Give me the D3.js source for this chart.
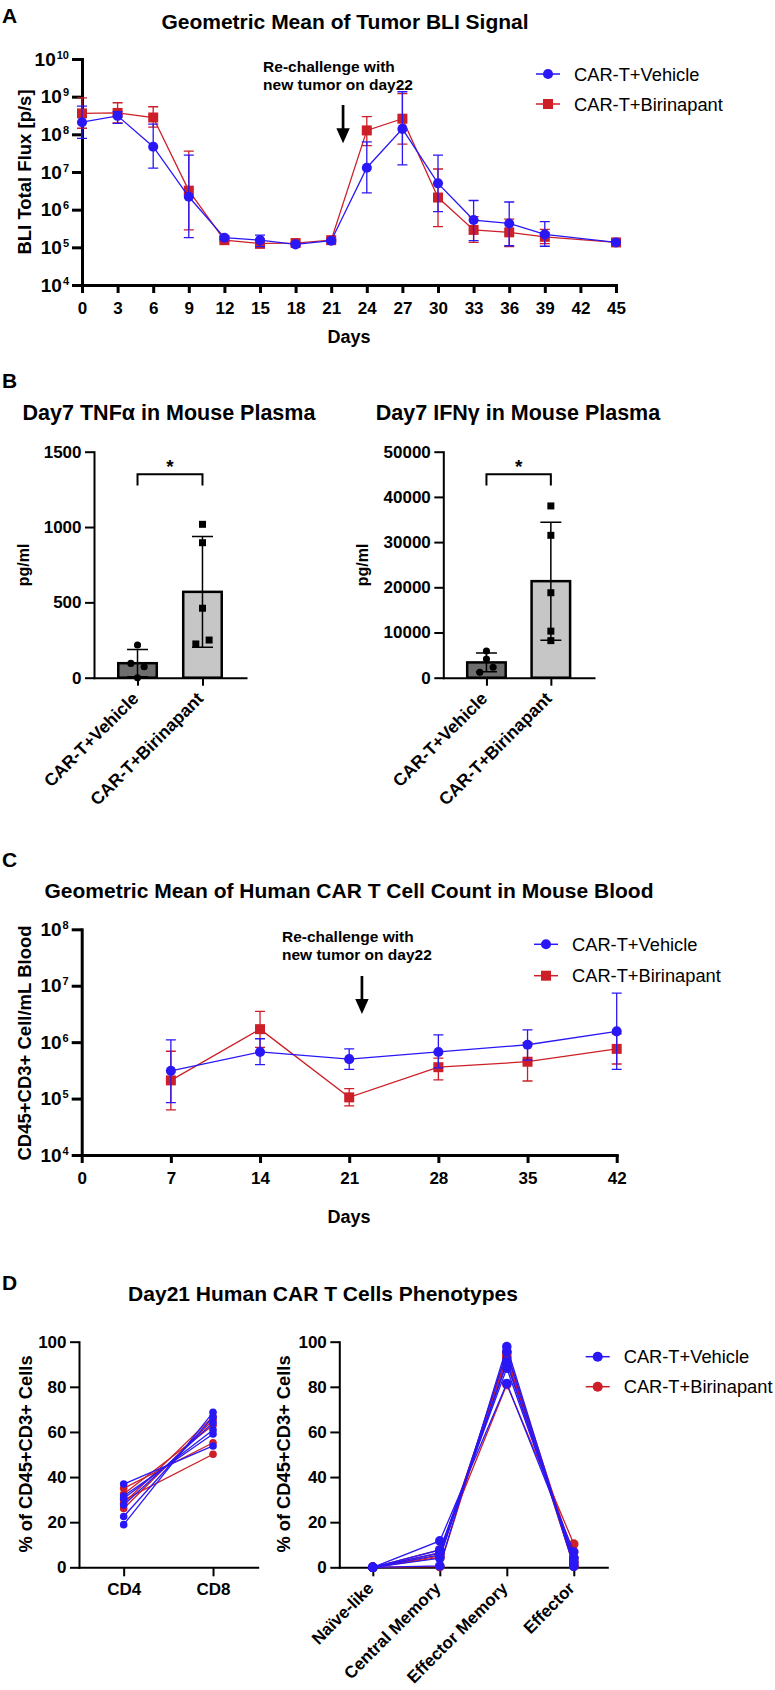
<!DOCTYPE html>
<html><head><meta charset="utf-8">
<script src="https://cdn.jsdelivr.net/npm/d3@7"></script>
<style>body{margin:0;background:#fff}svg{display:block}</style>
</head><body>
<script>
// ================= DATA =================
const groups = ["CAR-T+Vehicle", "CAR-T+Birinapant"];

// Panel A: tumor BLI (geometric mean with error range)
const bliDays = [0, 3, 6, 9, 12, 15, 18, 21, 24, 27, 30, 33, 36, 39, 45];
const bliDayTicks = [0, 3, 6, 9, 12, 15, 18, 21, 24, 27, 30, 33, 36, 39, 42, 45];
const bliTicks = [1e4, 1e5, 1e6, 1e7, 1e8, 1e9, 1e10];
const bliVehicle   = [2.1e8, 3.1e8, 4.7e7, 2.2e6, 1.8e5, 1.55e5, 1.2e5, 1.5e5, 1.3e7, 1.4e8, 5.0e6, 5.3e5, 4.3e5, 2.2e5, 1.35e5];
const bliVehicleHi = [5.6e8, 4.0e8, 1.86e8, 2.8e7, 1.95e5, 2.1e5, 1.3e5, 1.6e5, 6.3e7, 1.35e9, 2.8e7, 1.75e6, 1.6e6, 4.8e5, null];
const bliVehicleLo = [7.8e7, 1.95e8, 1.26e7, 1.8e5, 1.65e5, 1.05e5, 1.1e5, 1.4e5, 2.8e6, 1.55e7, 8.9e5, 1.5e5, 1.1e5, 1.07e5, null];
const bliBirinapant   = [3.6e8, 3.7e8, 2.8e8, 3.2e6, 1.55e5, 1.27e5, 1.3e5, 1.55e5, 1.27e8, 2.6e8, 2.1e6, 2.9e5, 2.5e5, 1.9e5, 1.35e5];
const bliBirinapantHi = [9.3e8, 6.9e8, 5.4e8, 3.6e7, 1.65e5, 1.45e5, 1.38e5, 1.65e5, 2.95e8, 1.2e9, 1.2e7, 6.5e5, 5.6e5, 3.0e5, null];
const bliBirinapantLo = [1.45e8, 2.0e8, 1.55e8, 2.9e5, 1.45e5, 9.5e4, 1.22e5, 1.45e5, 5.0e7, 5.5e7, 3.55e5, 1.35e5, 1.05e5, 1.25e5, null];
const rechallengeDay = 22;

// Panel B: day 7 cytokines (individual mice)
const tnfVehicle = [217, 95, 73, 0];
const tnfBirinapant = [1018, 896, 461, 224, 250];
const tnfTicks = [0, 500, 1000, 1500];
const ifnVehicle = [5900, 4140, 1190, 2300];
const ifnBirinapant = [38000, 31500, 18800, 10300, 8200];
const ifnTicks = [0, 10000, 20000, 30000, 40000, 50000];

// Panel C: CAR T count in blood
const carDays = [7, 14, 21, 28, 35, 42];
const carDayTicks = [0, 7, 14, 21, 28, 35, 42];
const carTicks = [1e4, 1e5, 1e6, 1e7, 1e8];
const carVehicle   = [3.1e5, 6.7e5, 5.0e5, 6.7e5, 9.0e5, 1.55e6];
const carVehicleHi = [1.1e6, 1.15e6, 7.6e5, 1.35e6, 1.65e6, 7.4e6];
const carVehicleLo = [8.5e4, 4.0e5, 3.3e5, 3.5e5, 4.8e5, 3.3e5];
const carBirinapant   = [2.1e5, 1.7e6, 1.05e5, 3.6e5, 4.5e5, 7.6e5];
const carBirinapantHi = [6.9e5, 3.5e6, 1.5e5, 5.2e5, 9.8e5, 1.4e6];
const carBirinapantLo = [6.3e4, 8.1e5, 7.4e4, 2.15e5, 2.05e5, 4.1e5];

// Panel D: day 21 phenotypes (per mouse)
const subsets = ["CD4", "CD8"];
const subsetVehicle = [[36.9, 53.8], [31.6, 59.1], [30.5, 60.9], [27.6, 64.1], [22.5, 66.5], [18.9, 68.7]];
const subsetBirinapant = [[35.0, 55.2], [29.8, 50.1], [28.4, 66.8], [26.1, 65.3], [32.5, 63.0]];
const phenotypes = ["Naïve-like", "Central Memory", "Effector Memory", "Effector"];
const phenoVehicle = [[0, 11.7, 81.5, 6.8], [0, 0.6, 97.8, 1.6], [0, 5.5, 90.4, 4.1], [0, 4.0, 95.6, 0.4], [0, 7.7, 88.2, 4.1], [0, 6.5, 91.0, 2.5]];
const phenoBirinapant = [[0, 7.7, 81.0, 10.3], [0, 4.4, 94.8, 0.8], [0, 6.2, 93.4, 0.4], [0, 0.3, 95.5, 4.2], [0, 5.0, 92.5, 2.5]];
const pctTicks = [0, 20, 40, 60, 80, 100];

// ================= STYLE =================
const FONT = '"Liberation Sans", Arial, Helvetica, sans-serif';
const BLUE = "#2a17f5", RED = "#cc1f27";

const svg = d3.select("body").append("svg")
  .attr("width", 775).attr("height", 1690)
  .attr("font-family", FONT);

function text(x, y, s, size, weight, anchor) {
  return svg.append("text").attr("x", x).attr("y", y)
    .attr("font-size", size).attr("font-weight", weight || "bold")
    .attr("text-anchor", anchor || "start").attr("fill", "#000").text(s);
}
function yTitle(x, cy, s, size) {
  svg.append("text").attr("transform", `translate(${x},${cy}) rotate(-90)`)
    .attr("text-anchor", "middle").attr("font-size", size).attr("font-weight", "bold").text(s);
}
function styleAxis(g, sw, fs) {
  g.attr("font-family", FONT).attr("font-size", fs).attr("font-weight", "bold");
  g.select(".domain").attr("stroke", "#000").attr("stroke-width", sw).attr("stroke-linecap", "square");
  g.selectAll(".tick line").attr("stroke", "#000").attr("stroke-width", sw);
  g.selectAll(".tick text").attr("fill", "#000");
}
function powLabels(g) {
  g.selectAll(".tick text").each(function (d) {
    const t = d3.select(this);
    t.text(null);
    t.append("tspan").text("10");
    t.append("tspan").attr("font-size", 11).attr("dx", 1).attr("dy", -7).text(Math.round(Math.log10(d)));
  });
}
const sym = (type, size) => d3.symbol().type(type).size(size)();
const plain = d3.format("d");

function legend(x, y0, dy, items, fs) {
  items.forEach((it, i) => {
    const y = y0 + i * dy;
    svg.append("line").attr("x1", x - 12).attr("x2", x + 12).attr("y1", y).attr("y2", y)
      .attr("stroke", it.color).attr("stroke-width", 1.5);
    svg.append("path").attr("transform", `translate(${x},${y})`).attr("d", it.d).attr("fill", it.color);
    text(x + 26, y + 6.5, it.label, fs, "normal");
  });
}

function rechallenge(x, base1, arrowTop, arrowTip) {
  const t = svg.append("text").attr("font-size", 15.5).attr("font-weight", "bold");
  t.append("tspan").attr("x", x - 80).attr("y", base1).text("Re-challenge with");
  t.append("tspan").attr("x", x - 80).attr("y", base1 + 18.5).text("new tumor on day22");
  svg.append("line").attr("x1", x).attr("x2", x).attr("y1", arrowTop).attr("y2", arrowTip - 12)
    .attr("stroke", "#000").attr("stroke-width", 2.7);
  svg.append("path").attr("d", `M${x - 6.7},${arrowTip - 15}L${x + 6.7},${arrowTip - 15}L${x},${arrowTip}Z`).attr("fill", "#000");
}

function logSeries(x, y, days, mean, hi, lo, color, shape, size) {
  const g = svg.append("g");
  g.append("path").datum(mean)
    .attr("d", d3.line().x((d, i) => x(days[i])).y(d => y(d)))
    .attr("fill", "none").attr("stroke", color).attr("stroke-width", 1.3);
  days.forEach((day, i) => {
    if (hi[i] == null) return;
    const cx = x(day), y1 = y(hi[i]), y2 = y(lo[i]);
    g.append("path").attr("d", `M${cx},${y1}V${y2}M${cx - 5},${y1}H${cx + 5}M${cx - 5},${y2}H${cx + 5}`)
      .attr("fill", "none").attr("stroke", color).attr("stroke-width", 1.3);
  });
  g.selectAll("path.m").data(mean).join("path").attr("class", "m")
    .attr("transform", (d, i) => `translate(${x(days[i])},${y(d)})`)
    .attr("d", sym(shape, size)).attr("fill", color);
}

function rotLabels(xs, cats, axisY, fs) {
  cats.forEach(c => {
    svg.append("text").attr("transform", `translate(${xs(c) + 2},${axisY + 22}) rotate(-45)`)
      .attr("text-anchor", "end").attr("font-size", fs).attr("font-weight", "bold").text(c);
  });
}

// ================= PANEL A =================
text(2, 23, "A", 21);
text(345, 28.5, "Geometric Mean of Tumor BLI Signal", 21, "bold", "middle");
{
  const x = d3.scaleLinear().domain([0, 45]).range([82, 616]);
  const y = d3.scaleLog().domain([1e4, 1e10]).range([285, 59]);
  const gx = svg.append("g").attr("transform", "translate(0,285)")
    .call(d3.axisBottom(x).tickValues(bliDayTicks).tickSize(8).tickSizeOuter(0).tickPadding(9));
  styleAxis(gx, 3, 17);
  const gy = svg.append("g").attr("transform", "translate(82,0)")
    .call(d3.axisLeft(y).tickValues(bliTicks).tickSize(10).tickSizeOuter(0).tickPadding(3));
  styleAxis(gy, 3, 19);
  powLabels(gy);
  yTitle(30.7, 172, "BLI Total Flux [p/s]", 18.5);
  text(349, 343, "Days", 18, "bold", "middle");
  rechallenge(x(rechallengeDay), 71.5, 105, 143.3);
  logSeries(x, y, bliDays, bliBirinapant, bliBirinapantHi, bliBirinapantLo, RED, d3.symbolSquare, 100);
  logSeries(x, y, bliDays, bliVehicle, bliVehicleHi, bliVehicleLo, BLUE, d3.symbolCircle, 80);
  legend(548, 74, 30, [
    { label: groups[0], color: BLUE, d: sym(d3.symbolCircle, 80) },
    { label: groups[1], color: RED, d: sym(d3.symbolSquare, 100) }
  ], 18.3);
}

// ================= PANEL B =================
text(2, 388, "B", 21);
function barPanel(x0, x1, yMax, ticks, vals, titleStr, titleX, ylabX, bracketTop, bracketLeg) {
  const y = d3.scaleLinear().domain([0, yMax]).range([677.7, 451.7]);
  const x = d3.scalePoint().domain(groups).range([x0, x1]).padding(0.67);
  text(titleX, 420, titleStr, 21.5, "bold", "middle");
  yTitle(ylabX, 565, "pg/ml", 16);
  const gy = svg.append("g").attr("transform", `translate(${x0},0)`)
    .call(d3.axisLeft(y).tickValues(ticks).tickFormat(plain).tickSize(9).tickSizeOuter(0).tickPadding(3.5));
  styleAxis(gy, 2, 17);
  const fills = ["#6e6e6e", "#c6c6c6"];
  groups.forEach((gname, gi) => {
    const v = vals[gi];
    const m = d3.mean(v), sd = d3.deviation(v);
    const cx = x(gname);
    svg.append("rect").attr("x", cx - 19.25).attr("width", 38.5)
      .attr("y", y(m)).attr("height", y(0) - y(m))
      .attr("fill", fills[gi]).attr("stroke", "#000").attr("stroke-width", 2.5);
    const yh = y(m + sd), yl = y(Math.max(0, m - sd));
    svg.append("path").attr("d", `M${cx},${yh}V${yl}M${cx - 10.5},${yh}H${cx + 10.5}M${cx - 10.5},${yl}H${cx + 10.5}`)
      .attr("stroke", "#000").attr("stroke-width", 1.5).attr("fill", "none");
    // dots: cluster overlapping points and spread them sideways
    const pts = v.map((d, i) => ({ d, i, py: y(d), dx: 0 }));
    const sorted = pts.slice().sort((a, b) => a.py - b.py);
    let cl = [sorted[0]];
    const clusters = [];
    for (let k = 1; k < sorted.length; k++) {
      if (sorted[k].py - sorted[k - 1].py < 7) cl.push(sorted[k]);
      else { clusters.push(cl); cl = [sorted[k]]; }
    }
    clusters.push(cl);
    clusters.forEach(c => {
      if (c.length < 2) return;
      c.sort((a, b) => a.i - b.i);
      c.forEach((p, k) => { p.dx = (k - (c.length - 1) / 2) * 13.3; });
    });
    pts.forEach(p => {
      svg.append("path").attr("transform", `translate(${cx + p.dx},${p.py})`)
        .attr("d", sym(gi === 0 ? d3.symbolCircle : d3.symbolSquare, gi === 0 ? 40 : 49)).attr("fill", "#000");
    });
  });
  // x axis drawn on top of bars
  const gx = svg.append("g").attr("transform", "translate(0,677.7)")
    .call(d3.axisBottom(x).tickSize(8).tickSizeOuter(0).tickFormat(""));
  styleAxis(gx, 2, 17);
  rotLabels(x, groups, 677.7, 17.5);
  // significance bracket
  const xa = x(groups[0]), xb = x(groups[1]);
  svg.append("path").attr("d", `M${xa},${y(bracketLeg)}V${y(bracketTop)}H${xb}V${y(bracketLeg)}`)
    .attr("fill", "none").attr("stroke", "#000").attr("stroke-width", 2);
  text((xa + xb) / 2, y(bracketTop) - 1, "*", 19, "bold", "middle");
}
barPanel(94, 246, 1500, tnfTicks, [tnfVehicle, tnfBirinapant], "Day7 TNFα in Mouse Plasma", 169, 29, 1350, 1275);
barPanel(443.3, 594, 50000, ifnTicks, [ifnVehicle, ifnBirinapant], "Day7 IFNγ in Mouse Plasma", 518, 368, 45000, 42500);

// ================= PANEL C =================
text(2, 867, "C", 21);
text(349, 898, "Geometric Mean of Human CAR T Cell Count in Mouse Blood", 21, "bold", "middle");
{
  const x = d3.scaleLinear().domain([0, 42]).range([81.7, 616.7]);
  const y = d3.scaleLog().domain([1e4, 1e8]).range([1155, 929.3]);
  const gx = svg.append("g").attr("transform", "translate(0,1155)")
    .call(d3.axisBottom(x).tickValues(carDayTicks).tickSize(8).tickSizeOuter(0).tickPadding(9));
  styleAxis(gx, 3, 17);
  const gy = svg.append("g").attr("transform", "translate(81.7,0)")
    .call(d3.axisLeft(y).tickValues(carTicks).tickSize(10).tickSizeOuter(0).tickPadding(3));
  styleAxis(gy, 3, 19);
  powLabels(gy);
  yTitle(31.3, 1043, "CD45+CD3+ Cell/mL Blood", 18.5);
  text(349, 1223, "Days", 18, "bold", "middle");
  rechallenge(x(rechallengeDay), 941.7, 976, 1014);
  logSeries(x, y, carDays, carBirinapant, carBirinapantHi, carBirinapantLo, RED, d3.symbolSquare, 100);
  logSeries(x, y, carDays, carVehicle, carVehicleHi, carVehicleLo, BLUE, d3.symbolCircle, 80);
  legend(546, 944.3, 31.4, [
    { label: groups[0], color: BLUE, d: sym(d3.symbolCircle, 80) },
    { label: groups[1], color: RED, d: sym(d3.symbolSquare, 100) }
  ], 18.3);
}

// ================= PANEL D =================
text(2, 1290, "D", 21);
text(323, 1300.5, "Day21 Human CAR T Cells Phenotypes", 21, "bold", "middle");
function pctPanel(x0, x1, cats, veh, bir, r, rotate) {
  const y = d3.scaleLinear().domain([0, 100]).range([1567.3, 1341.7]);
  const x = d3.scalePoint().domain(cats).range([x0, x1]).padding(0.5);
  const gx = svg.append("g").attr("transform", "translate(0,1567.3)")
    .call(d3.axisBottom(x).tickSize(9).tickSizeOuter(0).tickPadding(7));
  styleAxis(gx, 2, 17);
  if (rotate) { gx.selectAll(".tick text").remove(); rotLabels(x, cats, 1567.3, 17); }
  const gy = svg.append("g").attr("transform", `translate(${x0},0)`)
    .call(d3.axisLeft(y).tickValues(pctTicks).tickFormat(plain).tickSize(9).tickSizeOuter(0).tickPadding(3.5));
  styleAxis(gy, 2, 17);
  const line = d3.line().x((d, i) => x(cats[i])).y(d => y(d));
  [[bir, RED], [veh, BLUE]].forEach(([set, color]) => {
    const g = svg.append("g");
    set.forEach(row => {
      g.append("path").attr("d", line(row)).attr("fill", "none").attr("stroke", color).attr("stroke-width", 1.3);
      row.forEach((v, i) => g.append("circle").attr("cx", x(cats[i])).attr("cy", y(v)).attr("r", r).attr("fill", color));
    });
  });
}
pctPanel(79, 257.7, subsets, subsetVehicle, subsetBirinapant, 3.8, false);
pctPanel(339.3, 607.3, phenotypes, phenoVehicle, phenoBirinapant, 4.8, true);
yTitle(31.5, 1454, "% of CD45+CD3+ Cells", 18.3);
yTitle(290, 1454, "% of CD45+CD3+ Cells", 18.3);
legend(597.7, 1356.7, 30, [
  { label: groups[0], color: BLUE, d: sym(d3.symbolCircle, 80) },
  { label: groups[1], color: RED, d: sym(d3.symbolCircle, 80) }
], 18.3);
</script>
</body></html>
